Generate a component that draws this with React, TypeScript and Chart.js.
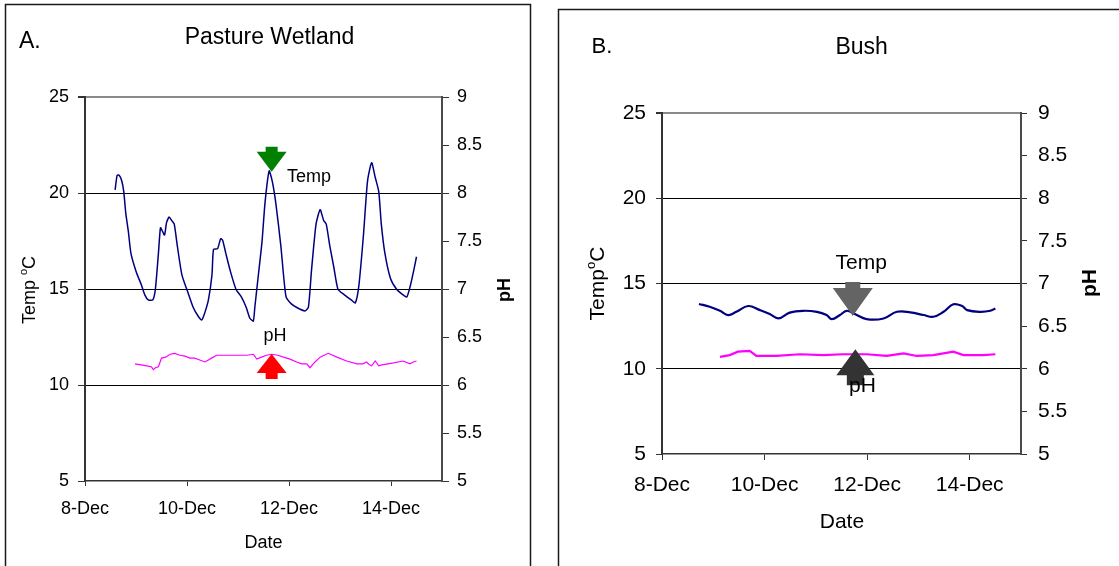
import React, { useEffect, useRef } from "react";
import { Chart, registerables } from "chart.js";

Chart.register(...registerables);

const FONT = "'Liberation Sans', Arial, Helvetica, sans-serif";

// ---- shared axis ticks ----
const xTickValues = [8, 10, 12, 14];
const tempTickValues = [5, 10, 15, 20, 25];
const phTickValues = [5, 5.5, 6, 6.5, 7, 7.5, 8, 8.5, 9];

// ---- Panel A: Pasture Wetland ----
const pastureTempDays = [8.59, 8.63, 8.67, 8.72, 8.76, 8.8, 8.85, 8.9, 9.0, 9.11, 9.17, 9.24, 9.33, 9.38, 9.44, 9.48, 9.52, 9.56, 9.6, 9.65, 9.7, 9.75, 9.81, 9.9, 10.02, 10.12, 10.22, 10.29, 10.35, 10.42, 10.49, 10.52, 10.6, 10.66, 10.7, 10.76, 10.85, 10.96, 11.06, 11.16, 11.23, 11.3, 11.33, 11.4, 11.47, 11.53, 11.61, 11.67, 11.74, 11.84, 11.94, 12.04, 12.17, 12.31, 12.38, 12.44, 12.53, 12.61, 12.68, 12.73, 12.8, 12.88, 12.96, 13.08, 13.22, 13.3, 13.37, 13.46, 13.54, 13.62, 13.69, 13.76, 13.81, 13.88, 13.99, 14.11, 14.23, 14.31, 14.38, 14.45, 14.5];
const pastureTemp = [20.16, 20.92, 20.92, 20.64, 20.07, 18.94, 18.0, 16.87, 15.93, 15.18, 14.71, 14.43, 14.43, 14.99, 16.87, 18.19, 18.0, 17.81, 18.47, 18.75, 18.57, 18.38, 17.25, 15.74, 14.8, 14.05, 13.58, 13.39, 13.77, 14.43, 15.74, 17.06, 17.1, 17.62, 17.53, 16.87, 15.93, 14.99, 14.61, 14.05, 13.49, 13.33, 14.05, 15.74, 17.44, 19.5, 21.15, 20.63, 19.5, 17.25, 14.61, 14.24, 14.01, 13.86, 14.05, 15.93, 18.38, 19.13, 18.57, 18.38, 17.25, 16.12, 14.99, 14.71, 14.43, 14.28, 15.18, 17.81, 20.63, 21.58, 20.82, 20.07, 18.38, 16.87, 15.55, 14.99, 14.71, 14.58, 15.18, 16.02, 16.68];
const pasturePhDays = [8.98, 9.1, 9.21, 9.3, 9.34, 9.38, 9.44, 9.5, 9.58, 9.67, 9.76, 9.86, 9.96, 10.06, 10.15, 10.25, 10.35, 10.42, 10.48, 10.58, 10.7, 10.84, 11.0, 11.17, 11.3, 11.37, 11.46, 11.56, 11.66, 11.78, 11.89, 12.02, 12.15, 12.25, 12.35, 12.41, 12.51, 12.61, 12.77, 12.94, 13.13, 13.33, 13.45, 13.52, 13.58, 13.62, 13.69, 13.76, 13.82, 13.94, 14.05, 14.24, 14.37, 14.44, 14.5];
const pasturePh = [6.22, 6.21, 6.2, 6.19, 6.16, 6.18, 6.19, 6.28, 6.29, 6.32, 6.33, 6.31, 6.3, 6.28, 6.28, 6.26, 6.24, 6.26, 6.28, 6.31, 6.31, 6.31, 6.31, 6.31, 6.32, 6.27, 6.29, 6.31, 6.32, 6.31, 6.29, 6.27, 6.24, 6.22, 6.22, 6.18, 6.24, 6.29, 6.33, 6.29, 6.25, 6.22, 6.22, 6.24, 6.21, 6.2, 6.25, 6.2, 6.21, 6.22, 6.23, 6.25, 6.22, 6.24, 6.25];

// ---- Panel B: Bush ----
const bushTempDays = [8.72, 8.93, 9.13, 9.29, 9.45, 9.68, 9.91, 10.1, 10.27, 10.49, 10.75, 11.02, 11.21, 11.31, 11.47, 11.6, 11.76, 11.99, 12.32, 12.58, 12.84, 13.1, 13.29, 13.49, 13.68, 13.85, 13.95, 14.2, 14.4, 14.5];
const bushTemp = [13.8, 13.64, 13.4, 13.15, 13.34, 13.68, 13.44, 13.21, 12.95, 13.29, 13.4, 13.34, 13.15, 12.91, 13.15, 13.4, 13.21, 12.91, 12.95, 13.34, 13.31, 13.15, 13.05, 13.34, 13.78, 13.68, 13.44, 13.34, 13.4, 13.54];
const bushPhDays = [9.13, 9.32, 9.48, 9.71, 9.84, 10.23, 10.69, 11.14, 11.53, 11.99, 12.38, 12.71, 12.97, 13.29, 13.68, 13.88, 14.27, 14.5];
const bushPh = [6.14, 6.16, 6.2, 6.21, 6.15, 6.15, 6.17, 6.16, 6.17, 6.17, 6.15, 6.18, 6.15, 6.16, 6.2, 6.16, 6.16, 6.17];

type Part = { t: string; s?: number; rise?: number };
type TextSpec = { parts: Part[]; x: number; y: number; size: number; bold?: boolean; align?: "left" | "center"; rotate?: boolean };
type ArrowSpec = { x: number; y: number; dir: "up" | "down"; color: string; headW: number; headH: number; shaftW: number; shaftH: number };
type Panel = {
  width: number;
  height: number;
  left: number;
  frame: [number, number, number, number];
  padding: { left: number; right: number; top: number; bottom: number };
  yWidth: number;
  y2Width: number;
  xHeight: number;
  fontSize: number;
  yTick: [number, number];
  y2Tick: [number, number];
  xTick: [number, number];
  tempDays: number[];
  temp: number[];
  phDays: number[];
  ph: number[];
  tempWidth: number;
  phWidth: number;
  tempTension: number;
  texts: TextSpec[];
  arrows: ArrowSpec[];
};

const font = (size: number, bold?: boolean) => `${bold ? "bold " : ""}${size}px ${FONT}`;

function drawText(ctx: CanvasRenderingContext2D, spec: TextSpec) {
  ctx.save();
  ctx.fillStyle = "#000";
  ctx.textBaseline = "alphabetic";
  ctx.textAlign = "left";
  ctx.translate(spec.x, spec.y);
  if (spec.rotate) ctx.rotate(-Math.PI / 2);
  const widths = spec.parts.map((p) => {
    ctx.font = font(spec.size * (p.s ?? 1), spec.bold);
    return ctx.measureText(p.t).width;
  });
  const total = widths.reduce((a, b) => a + b, 0);
  let cx = spec.align === "left" ? 0 : -total / 2;
  spec.parts.forEach((p, i) => {
    ctx.font = font(spec.size * (p.s ?? 1), spec.bold);
    ctx.fillText(p.t, cx, -(p.rise ?? 0) * spec.size);
    cx += widths[i];
  });
  ctx.restore();
}

function drawArrow(ctx: CanvasRenderingContext2D, chart: any, a: ArrowSpec) {
  const tx = chart.scales.x.getPixelForValue(a.x);
  const ty = chart.scales.y.getPixelForValue(a.y);
  const d = a.dir === "down" ? -1 : 1; // body extends above (down arrow) or below (up arrow)
  const hb = ty - d * -1 * 0; // placeholder
  const baseY = a.dir === "down" ? ty - a.headH : ty + a.headH;
  const endY = a.dir === "down" ? baseY - a.shaftH : baseY + a.shaftH;
  void hb;
  void d;
  ctx.save();
  ctx.fillStyle = a.color;
  ctx.beginPath();
  ctx.moveTo(tx, ty);
  ctx.lineTo(tx + a.headW / 2, baseY);
  ctx.lineTo(tx + a.shaftW / 2, baseY);
  ctx.lineTo(tx + a.shaftW / 2, endY);
  ctx.lineTo(tx - a.shaftW / 2, endY);
  ctx.lineTo(tx - a.shaftW / 2, baseY);
  ctx.lineTo(tx - a.headW / 2, baseY);
  ctx.closePath();
  ctx.fill();
  ctx.restore();
}

function makeDecor(p: Panel) {
  return {
    id: "decor",
    beforeDraw(chart: any) {
      const ctx = chart.ctx as CanvasRenderingContext2D;
      ctx.save();
      ctx.fillStyle = "#fff";
      ctx.fillRect(0, 0, chart.width, chart.height);
      ctx.strokeStyle = "#1a1a1a";
      ctx.lineWidth = 1.5;
      const [fx, fy, fw, fh] = p.frame;
      ctx.strokeRect(fx, fy, fw, fh);
      ctx.restore();
    },
    afterDraw(chart: any) {
      const ctx = chart.ctx as CanvasRenderingContext2D;
      p.arrows.forEach((a) => drawArrow(ctx, chart, a));
      p.texts.forEach((t) => drawText(ctx, t));
    },
  };
}

function makeConfig(p: Panel): any {
  const tickFont = { family: FONT, size: p.fontSize };
  return {
    type: "line",
    data: {
      datasets: [
        {
          label: "Temp",
          data: p.tempDays.map((d, i) => ({ x: d, y: p.temp[i] })),
          yAxisID: "y",
          borderColor: "#000080",
          borderWidth: p.tempWidth,
          pointRadius: 0,
          tension: p.tempTension,
          fill: false,
        },
        {
          label: "pH",
          data: p.phDays.map((d, i) => ({ x: d, y: p.ph[i] })),
          yAxisID: "y2",
          borderColor: "#ff00ff",
          borderWidth: p.phWidth,
          pointRadius: 0,
          tension: 0,
          fill: false,
        },
      ],
    },
    options: {
      responsive: false,
      animation: false,
      devicePixelRatio: 1,
      events: [],
      layout: { padding: p.padding },
      plugins: { legend: { display: false }, tooltip: { enabled: false }, title: { display: false } },
      scales: {
        x: {
          type: "linear",
          position: "bottom",
          min: 8,
          max: 15,
          afterBuildTicks: (s: any) => {
            s.ticks = xTickValues.map((v) => ({ value: v }));
          },
          afterFit: (s: any) => {
            s.height = p.xHeight;
          },
          ticks: {
            font: tickFont,
            color: "#000",
            padding: p.xTick[1],
            maxRotation: 0,
            autoSkip: false,
            callback: (v: any) => `${v}-Dec`,
          },
          grid: { drawOnChartArea: false, drawTicks: true, tickLength: p.xTick[0], color: "#333", lineWidth: 1 },
          border: { display: true, color: "#333", width: 1.5 },
        },
        y: {
          type: "linear",
          position: "left",
          min: 5,
          max: 25,
          afterBuildTicks: (s: any) => {
            s.ticks = tempTickValues.map((v) => ({ value: v }));
          },
          afterFit: (s: any) => {
            s.width = p.yWidth;
          },
          ticks: { font: tickFont, color: "#000", padding: p.yTick[1], callback: (v: any) => String(v) },
          grid: {
            drawOnChartArea: true,
            drawTicks: true,
            tickLength: p.yTick[0],
            color: (c: any) => (c.tick && c.tick.value === 25 ? "#8a8a8a" : c.tick && c.tick.value === 5 ? "rgba(0,0,0,0)" : "#000"),
            lineWidth: (c: any) => (c.tick && c.tick.value === 25 ? 2 : 1),
            tickColor: "#333",
          },
          border: { display: true, color: "#333", width: 2 },
        },
        y2: {
          type: "linear",
          position: "right",
          min: 5,
          max: 9,
          afterBuildTicks: (s: any) => {
            s.ticks = phTickValues.map((v) => ({ value: v }));
          },
          afterFit: (s: any) => {
            s.width = p.y2Width;
          },
          ticks: { font: tickFont, color: "#000", padding: p.y2Tick[1], callback: (v: any) => String(v) },
          grid: { drawOnChartArea: false, drawTicks: true, tickLength: p.y2Tick[0], color: "#333", lineWidth: 1 },
          border: { display: true, color: "#4a4a4a", width: 2 },
        },
      },
    },
    plugins: [makeDecor(p)],
  };
}

const panelA: Panel = {
  width: 540,
  height: 566,
  left: 0,
  frame: [5.5, 4.5, 525, 700],
  padding: { left: 25, right: 38, top: 97, bottom: 35 },
  yWidth: 60,
  y2Width: 60,
  xHeight: 50,
  fontSize: 18,
  yTick: [7, 9],
  y2Tick: [7, 8],
  xTick: [5, 12],
  tempDays: pastureTempDays,
  temp: pastureTemp,
  phDays: pasturePhDays,
  ph: pasturePh,
  tempWidth: 1.5,
  phWidth: 1.2,
  tempTension: 0.2,
  texts: [
    { parts: [{ t: "A." }], x: 19, y: 47.5, size: 23, align: "left" },
    { parts: [{ t: "Pasture Wetland" }], x: 269.5, y: 44, size: 23 },
    { parts: [{ t: "Temp" }], x: 287, y: 181.5, size: 18, align: "left" },
    { parts: [{ t: "pH" }], x: 275, y: 340.5, size: 18 },
    { parts: [{ t: "Date" }], x: 263.5, y: 548, size: 18 },
    { parts: [{ t: "Temp " }, { t: "o", s: 0.62, rise: 0.42 }, { t: "C" }], x: 35, y: 290, size: 18, rotate: true },
    { parts: [{ t: "pH" }], x: 510, y: 290, size: 18, bold: true, rotate: true },
  ],
  arrows: [
    { x: 11.66, y: 21.11, dir: "down", color: "#008000", headW: 30, headH: 20, shaftW: 12, shaftH: 5 },
    { x: 11.66, y: 11.61, dir: "up", color: "#ff0000", headW: 30, headH: 19, shaftW: 12, shaftH: 6 },
  ],
};

const panelB: Panel = {
  width: 579,
  height: 566,
  left: 540,
  frame: [18.5, 9.5, 700, 700],
  padding: { left: 52, right: 38, top: 113, bottom: 62 },
  yWidth: 70,
  y2Width: 60,
  xHeight: 50,
  fontSize: 21,
  yTick: [6, 10],
  y2Tick: [6, 11],
  xTick: [6, 13],
  tempDays: bushTempDays,
  temp: bushTemp,
  phDays: bushPhDays,
  ph: bushPh,
  tempWidth: 2.2,
  phWidth: 2.2,
  tempTension: 0.4,
  texts: [
    { parts: [{ t: "B." }], x: 51.5, y: 52.5, size: 22, align: "left" },
    { parts: [{ t: "Bush" }], x: 321.7, y: 54, size: 23 },
    { parts: [{ t: "Temp" }], x: 321.3, y: 269, size: 21 },
    { parts: [{ t: "Date" }], x: 301.9, y: 528, size: 21 },
    { parts: [{ t: "Temp" }, { t: "o", s: 0.62, rise: 0.42 }, { t: "C" }], x: 64, y: 283.5, size: 21, rotate: true },
    { parts: [{ t: "pH" }], x: 555.5, y: 283, size: 21, bold: true, rotate: true },
  ],
  arrows: [
    { x: 11.72, y: 13.09, dir: "down", color: "#646464", headW: 40, headH: 28, shaftW: 15, shaftH: 6 },
    { x: 11.77, y: 11.15, dir: "up", color: "#333333", headW: 38, headH: 26, shaftW: 17, shaftH: 10 },
  ],
};

// "pH" label in panel B sits on top of the dark arrow
panelB.texts.push({ parts: [{ t: "pH" }], x: 322.5, y: 392, size: 21 });

function PanelChart({ panel }: { panel: Panel }) {
  const ref = useRef<HTMLCanvasElement | null>(null);
  useEffect(() => {
    if (!ref.current) return;
    const chart = new Chart(ref.current, makeConfig(panel));
    return () => chart.destroy();
  }, [panel]);
  return (
    <canvas
      ref={ref}
      width={panel.width}
      height={panel.height}
      style={{ position: "absolute", left: panel.left, top: 0, width: panel.width, height: panel.height, display: "block" }}
    />
  );
}

export default function App() {
  return (
    <div style={{ position: "absolute", left: 0, top: 0, width: 1119, height: 566, background: "#fff", overflow: "hidden" }}>
      <PanelChart panel={panelA} />
      <PanelChart panel={panelB} />
    </div>
  );
}
